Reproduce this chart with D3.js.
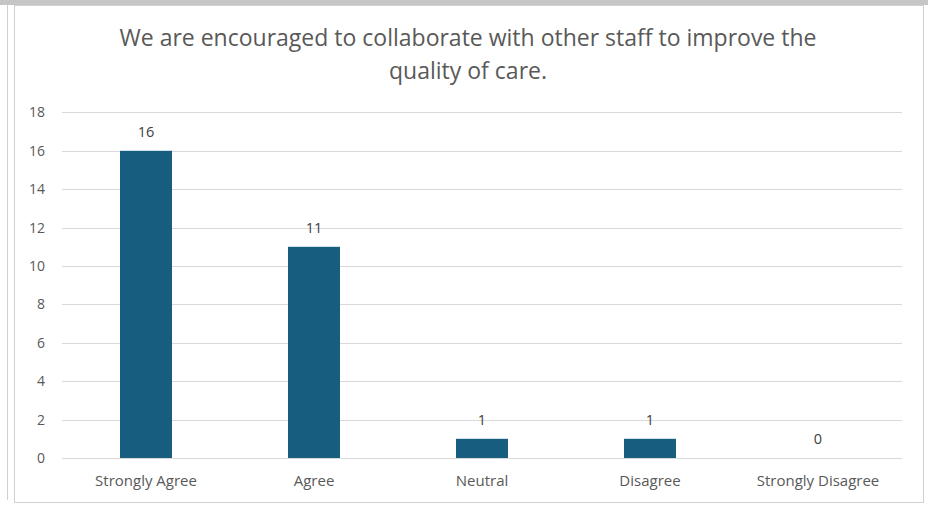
<!DOCTYPE html>
<html><head><meta charset="utf-8">
<script src="https://cdn.jsdelivr.net/npm/d3@7"></script>
<style>body{margin:0;background:#fff;}svg{display:block;}</style>
</head><body>
<svg id="c" width="928" height="506"></svg>
<script>
const categories = ["Strongly Agree","Agree","Neutral","Disagree","Strongly Disagree"];
const values = [16,11,1,1,0];
const yTicks = [0,2,4,6,8,10,12,14,16,18];
const titleLines = ["We are encouraged to collaborate with other staff to improve the","quality of care."];

(function(){
const svg = d3.select("#c");
const W = 928, H = 506;
const font = "'Open Sans', sans-serif";
const textColor = "#595959";

// frame
svg.append("rect").attr("x",0).attr("y",0).attr("width",W).attr("height",5).attr("fill","#c6c6c6");
svg.append("line").attr("x1",7.5).attr("x2",7.5).attr("y1",5).attr("y2",500).attr("stroke","#d0d0d0");
svg.append("rect").attr("x",14.5).attr("y",5.5).attr("width",909).attr("height",497).attr("fill","#fff").attr("stroke","#d0d0d0");

const pl = 62, pr = 902, pt = 112.4, pb = 458;
const x = d3.scaleBand().domain(categories).range([pl,pr]).padding(0);
const y = d3.scaleLinear().domain([0,18]).range([pb,pt]);

// gridlines
svg.append("g").selectAll("line").data(yTicks).join("line")
  .attr("x1",pl).attr("x2",pr)
  .attr("y1",d=>Math.round(y(d))+0.5).attr("y2",d=>Math.round(y(d))+0.5)
  .attr("stroke","#d9d9d9").attr("stroke-width",1);

// y axis labels
const yAxis = d3.axisLeft(y).tickValues(yTicks).tickSize(0).tickPadding(17);
const ga = svg.append("g").attr("transform",`translate(${pl},0)`).call(yAxis);
ga.select(".domain").remove();
ga.selectAll("text").attr("fill",textColor).style("font-family",font).style("font-size","14px");

// x axis labels
const xAxis = d3.axisBottom(x).tickSize(0).tickPadding(17.5);
const gx = svg.append("g").attr("transform",`translate(0,${pb})`).call(xAxis);
gx.select(".domain").remove();
gx.selectAll("text").attr("fill",textColor).style("font-family",font).style("font-size","15px");

// bars
const bw = 52;
svg.append("g").selectAll("rect").data(values).join("rect")
  .attr("x",(d,i)=>x(categories[i])+x.bandwidth()/2-bw/2)
  .attr("width",bw)
  .attr("y",d=>y(d))
  .attr("height",d=>y(0)-y(d))
  .attr("fill","#175d80");

// value labels
svg.append("g").selectAll("text").data(values).join("text")
  .attr("x",(d,i)=>x(categories[i])+x.bandwidth()/2)
  .attr("y",d=>y(d)-14)
  .attr("text-anchor","middle")
  .attr("fill","#404040")
  .style("font-family",font).style("font-size","14.5px")
  .text(d=>d);

// title
svg.append("g").selectAll("text").data(titleLines).join("text")
  .attr("x",468).attr("y",(d,i)=>46+i*33)
  .attr("text-anchor","middle")
  .attr("fill",textColor)
  .style("font-family",font).style("font-size","23px")
  .text(d=>d);
})();
</script>
</body></html>
